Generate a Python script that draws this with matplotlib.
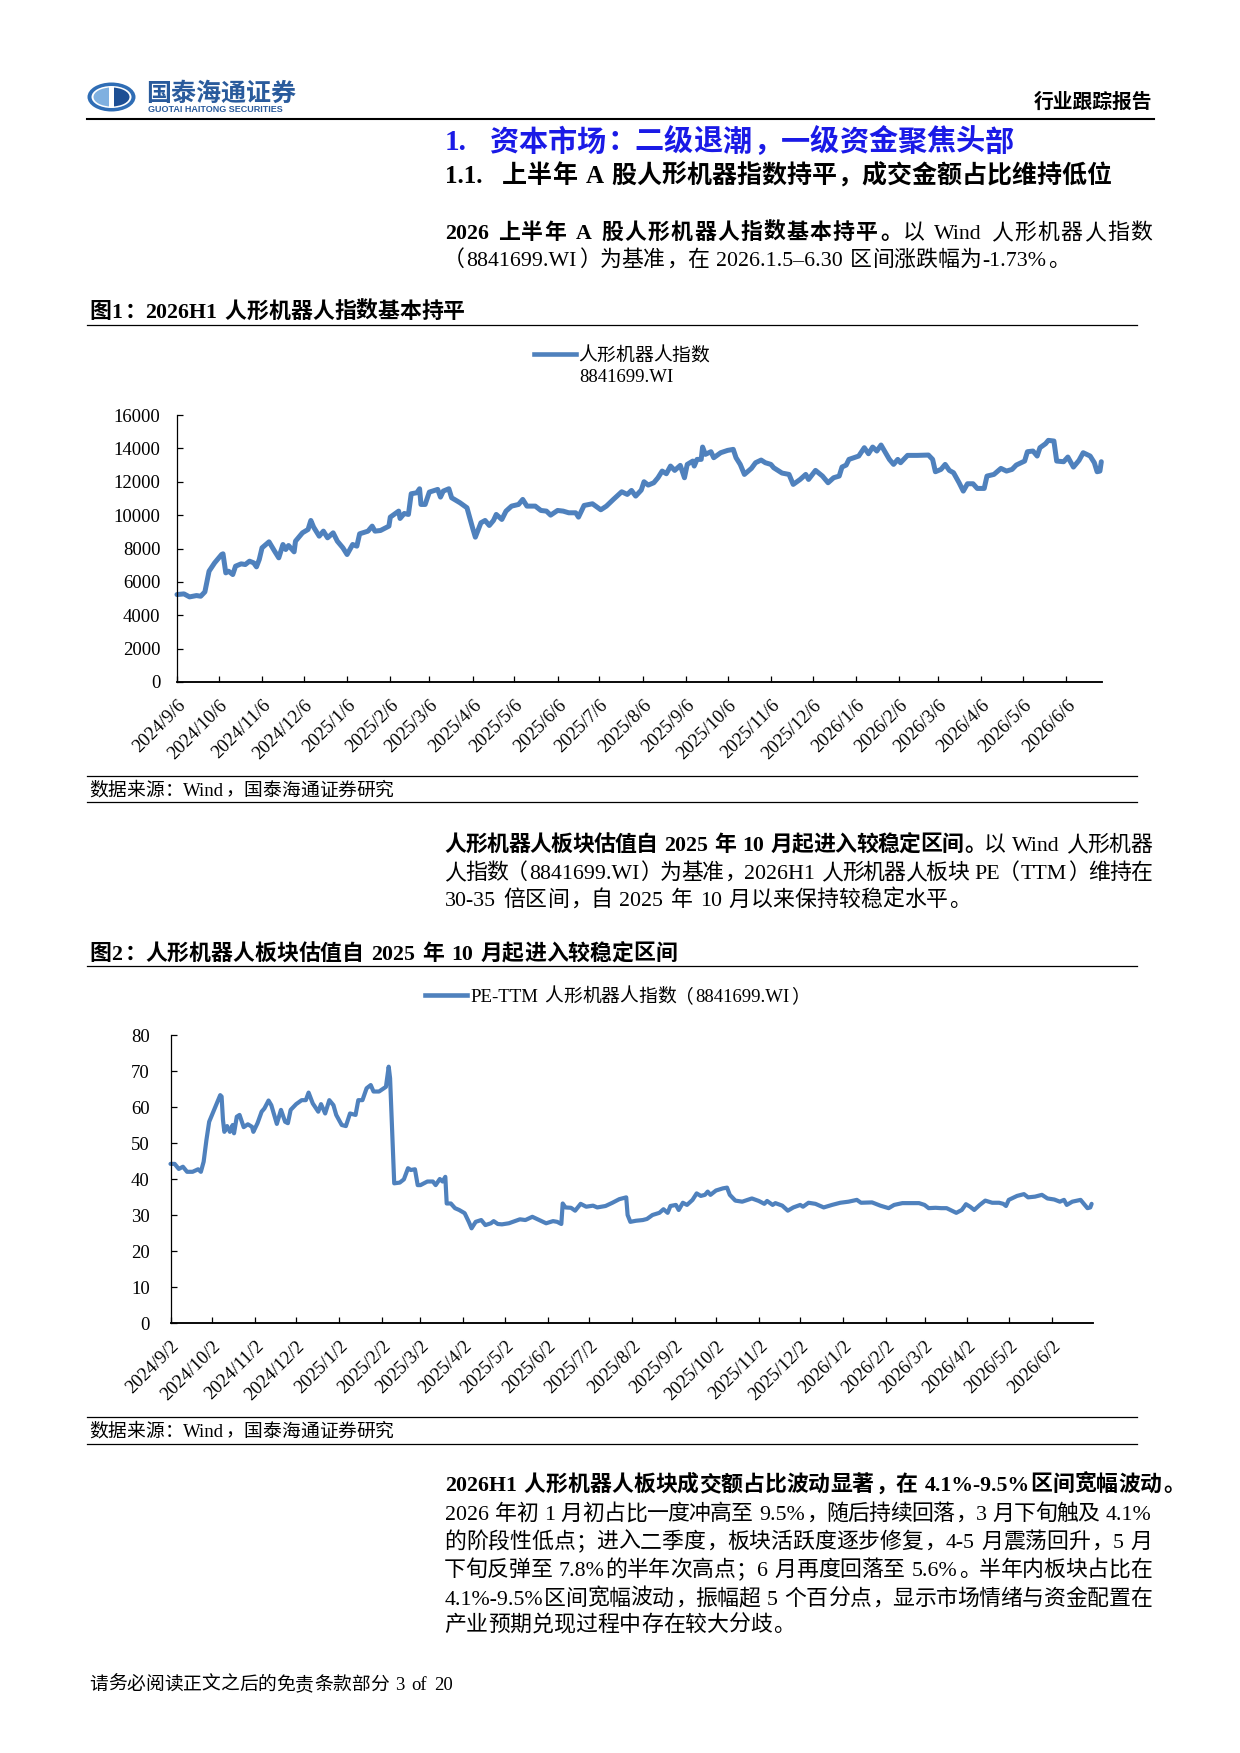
import re
import pandas as pd
import matplotlib
matplotlib.use('Agg')
import matplotlib.pyplot as plt
from matplotlib.lines import Line2D
from matplotlib.patches import Ellipse, Rectangle

plt.rcParams['font.family'] = ['Liberation Serif', 'Noto Sans CJK SC', 'DejaVu Sans']

W, H, DPI = 1240, 1753, 150
LINE_BLUE = '#4F81BD'

# fig 1: 人形机器人指数 (8841699.WI), x = days after 2024/9/6
idx_start = '2024-09-06'
idx_days = [0, 5, 9, 14, 17, 20, 23, 27, 32, 33, 35, 37, 40, 42, 46, 49, 52, 55, 57, 59,
            61, 66, 70, 73, 76, 78, 80, 84, 85, 90, 94, 96, 98, 102, 105, 108, 112, 115, 119, 122,
            126, 129, 131, 137, 140, 142, 146, 152, 153, 159, 160, 163, 166, 168, 172, 174, 175, 178, 181, 187,
            189, 191, 195, 197, 201, 203, 208, 212, 214, 218, 221, 224, 227, 229, 233, 236, 240, 245, 248, 251,
            257, 261, 265, 268, 273, 277, 281, 286, 288, 292, 298, 304, 308, 313, 319, 323, 326, 329,
            333, 335, 338, 342, 345, 348, 351, 354, 357, 361, 364, 366, 370, 371, 373, 376, 377, 379, 383, 385,
            390, 395, 399, 401, 404, 407, 412, 415, 419, 422, 426, 428, 434, 439, 442, 447, 451, 453, 458, 463,
            467, 471, 475, 477, 480, 482, 489, 493, 496, 499, 502, 505, 511, 514, 517, 519, 524, 531, 539, 542,
            544, 548, 551, 554, 557, 561, 564, 567, 571, 574, 579, 581, 586, 591, 595, 599, 602, 608, 610, 614,
            617, 619, 623, 625, 629, 631, 636, 639, 643, 647, 650, 655, 658, 660, 662, 663]
idx_vals = [5240, 5280, 5100, 5180, 5140, 5400, 6640, 7140, 7640, 7680, 6540, 6640, 6440, 6940, 7080, 7040, 7240, 7140, 6900, 7340,
            8040, 8400, 7840, 7440, 8240, 7940, 8180, 7800, 8440, 8940, 9140, 9680, 9280, 8740, 9040, 8640, 8940, 8440, 8040, 7640,
            8240, 8140, 8880, 9040, 9340, 9040, 9080, 9340, 9880, 10240, 9800, 10100, 10040, 11280, 11340, 11580, 10640, 10640, 11380, 11540,
            11080, 11440, 11580, 11040, 10840, 10740, 10440, 9240, 8680, 9540, 9680, 9380, 9680, 10040, 9740, 10240, 10540, 10640, 10940, 10540,
            10540, 10280, 10240, 10000, 10280, 10240, 10140, 10140, 9880, 10580, 10680, 10320, 10540, 10940, 11400, 11240, 11480, 11140,
            11500, 12000, 11800, 11940, 12240, 12640, 12480, 12940, 12680, 12980, 12240, 13040, 13240, 12940, 13340, 13340, 14080, 13640, 13800, 13440,
            13740, 13880, 13940, 13440, 13040, 12440, 12800, 13140, 13300, 13140, 13040, 12840, 12520, 12440, 11840, 12140, 12440, 12140, 12680, 12340,
            11940, 12240, 12340, 12880, 13000, 13340, 13540, 14040, 13680, 14080, 13840, 14200, 13340, 13040, 13340, 13140, 13580, 13580, 13600, 13340,
            12600, 12740, 13040, 12680, 12540, 11940, 11440, 11880, 11880, 11600, 11600, 12340, 12440, 12800, 12640, 12740, 13000, 13240, 13800, 13840,
            13540, 14040, 14280, 14480, 14440, 13240, 13200, 13480, 12880, 13280, 13740, 13540, 13140, 12600, 12640, 13200]
idx_ticks = ['2024/9/6', '2024/10/6', '2024/11/6', '2024/12/6', '2025/1/6', '2025/2/6', '2025/3/6',
             '2025/4/6', '2025/5/6', '2025/6/6', '2025/7/6', '2025/8/6', '2025/9/6', '2025/10/6',
             '2025/11/6', '2025/12/6', '2026/1/6', '2026/2/6', '2026/3/6', '2026/4/6', '2026/5/6', '2026/6/6']

# fig 2: PE-TTM, x = days after 2024/9/2
pe_start = '2024-09-02'
pe_days = [0, 3, 6, 9, 12, 16, 20, 22, 24, 26, 28, 32, 36, 37, 38, 39, 41, 43, 45, 46,
           48, 50, 53, 56, 59, 60, 63, 66, 68, 71, 73, 77, 80, 83, 85, 87, 91, 95, 98, 100,
           103, 107, 109, 112, 115, 118, 120, 124, 127, 130, 134, 136, 139, 142, 145, 147, 151, 156, 158, 159,
           162, 166, 169, 172, 174, 177, 179, 181, 186, 190, 192, 195, 197, 199, 200, 203, 206, 209, 213, 216,
           218, 221, 225, 228, 232, 234, 237, 240, 245, 253, 257, 262, 267, 272, 277, 280, 283, 284, 286, 290,
           293, 297, 301, 306, 309, 315, 320, 325, 330, 331, 333, 337, 342, 345, 349, 354, 357, 360, 362, 366,
           368, 371, 374, 378, 381, 384, 387, 389, 391, 395, 400, 403, 405, 409, 414, 418, 421, 426, 430, 432,
           436, 438, 443, 447, 451, 456, 458, 462, 467, 473, 479, 485, 491, 497, 500, 508, 514, 520, 524, 530,
           542, 546, 549, 554, 558, 562, 569, 573, 576, 579, 582, 586, 590, 595, 600, 603, 605, 607, 613, 618,
           621, 626, 631, 635, 640, 644, 647, 649, 653, 659, 664, 666, 667]
pe_vals = [44.2, 44.2, 42.8, 43.4, 42.0, 42.0, 42.7, 42.0, 44.8, 50.8, 55.9, 59.6, 63.3, 62.9, 56.4, 53.1, 54.7, 53.1, 55.0, 52.7,
           57.3, 57.8, 54.4, 55.2, 54.5, 53.1, 55.5, 58.7, 59.6, 61.8, 60.5, 55.3, 59.2, 55.9, 55.5, 59.2, 60.8, 61.9, 61.9, 64.0,
           61.0, 58.7, 60.8, 58.2, 61.9, 60.5, 57.8, 55.0, 54.7, 58.2, 57.8, 61.9, 61.9, 65.2, 66.1, 64.3, 64.3, 65.6, 71.2, 68.0,
           38.8, 39.0, 39.9, 43.0, 42.5, 42.7, 38.3, 38.3, 39.3, 39.3, 38.3, 40.0, 39.3, 40.6, 33.2, 33.2, 31.9, 31.4, 30.5, 28.1,
           26.3, 28.1, 28.6, 27.2, 27.7, 28.3, 27.5, 27.4, 27.7, 28.8, 28.6, 29.5, 28.6, 27.7, 28.3, 28.1, 27.5, 33.2, 32.1, 32.0,
           31.2, 33.1, 32.3, 32.6, 32.1, 32.5, 33.4, 34.4, 34.9, 30.0, 28.1, 28.4, 28.6, 28.9, 30.0, 30.6, 31.6, 30.6, 32.5, 32.8,
           31.4, 33.4, 32.8, 34.2, 36.0, 35.3, 35.6, 36.5, 35.6, 36.8, 37.4, 37.6, 35.6, 34.0, 33.7, 34.2, 34.6, 33.9, 33.1, 33.9,
           32.8, 33.3, 32.6, 31.2, 32.1, 32.8, 32.3, 33.4, 33.1, 32.1, 32.8, 33.4, 33.7, 34.2, 33.4, 33.5, 32.6, 31.9, 32.8, 33.3,
           33.3, 32.8, 31.9, 32.0, 31.9, 31.9, 30.6, 31.4, 33.0, 32.3, 31.4, 32.8, 34.0, 33.4, 33.4, 33.1, 32.5, 34.2, 35.3, 35.8,
           34.9, 35.1, 35.6, 34.6, 34.3, 33.7, 34.2, 32.8, 33.7, 34.2, 31.9, 32.1, 33.1]
pe_ticks = ['2024/9/2', '2024/10/2', '2024/11/2', '2024/12/2', '2025/1/2', '2025/2/2', '2025/3/2',
            '2025/4/2', '2025/5/2', '2025/6/2', '2025/7/2', '2025/8/2', '2025/9/2', '2025/10/2',
            '2025/11/2', '2025/12/2', '2026/1/2', '2026/2/2', '2026/3/2', '2026/4/2', '2026/5/2', '2026/6/2']

fig = plt.figure(figsize=(W / DPI, H / DPI), dpi=DPI)
renderer = fig.canvas.get_renderer()


def fx(x):
    return x / W


def fy(y):
    return 1 - y / H


def hline(y, x0=87, x1=1137, lw=0.6):
    fig.add_artist(Line2D([fx(x0), fx(x1)], [fy(y), fy(y)], color='black', lw=lw))


TOKEN = re.compile(r'[A-Za-z0-9.%\-–]+| |.')
CJK_LEFT = set('，。、；：）')
CJK_RIGHT = set('（')


def measure(t, size, bold):
    a = fig.text(0, 0, t, fontsize=size, fontweight='bold' if bold else 'normal')
    w = a.get_window_extent(renderer).width
    a.remove()
    return w


def para(segs, yc, x0=444, x1=None, size=10.5, color='black'):
    """draw one text line char by char, optionally justified to x1"""
    em = size * DPI / 72
    base = yc + 0.36 * em
    toks = []
    for s, bold in segs:
        toks += [(t, bold) for t in TOKEN.findall(s)]
    widths = []
    for t, bold in toks:
        if t == ' ':
            widths.append(0.3 * em)
        elif len(t) == 1 and ord(t) >= 0x2E80:
            widths.append(em)
        else:
            widths.append(measure(t, size, bold) + 0.06 * em)
    gap = 0
    if x1 is not None and len(toks) > 1:
        gap = (x1 - x0 - sum(widths)) / (len(toks) - 1)
    x = x0
    for (t, bold), w in zip(toks, widths):
        if t != ' ':
            if len(t) == 1 and ord(t) >= 0x2E80:
                if t in CJK_LEFT:
                    xa, ha = x + 0.06 * em, 'left'
                elif t in CJK_RIGHT:
                    xa, ha = x + 0.94 * em, 'right'
                else:
                    xa, ha = x + em / 2, 'center'
            else:
                xa, ha = x + 0.03 * em, 'left'
            fig.text(fx(xa), fy(base), t, fontsize=size, ha=ha, va='baseline', color=color,
                     fontweight='bold' if bold else 'normal')
        x += w + gap


def draw_chart(box, start, days, vals, ticks, ymax, ystep, lw, ypad, span):
    left, top, right, bottom = box
    ax = fig.add_axes([fx(left), fy(bottom), (right - left) / W, (bottom - top) / H])
    t0 = pd.Timestamp(start)
    x = t0 + pd.to_timedelta(days, unit='D')
    ax.plot(x, vals, color=LINE_BLUE, lw=lw, solid_joinstyle='round', solid_capstyle='round', clip_on=False)
    ax.set_xlim(t0, t0 + pd.Timedelta(days=span))
    ax.set_ylim(0, ymax)
    ax.set_yticks(range(0, ymax + 1, ystep))
    ax.set_xticks(pd.to_datetime(ticks, format='%Y/%m/%d'), ticks, rotation=45, ha='right',
                  rotation_mode='anchor')
    for s in ['top', 'right']:
        ax.spines[s].set_visible(False)
    ax.spines['left'].set_linewidth(0.6)
    ax.spines['bottom'].set_linewidth(0.9)
    ax.tick_params(direction='in', length=3, width=0.6, labelsize=9, colors='black')
    ax.tick_params(axis='y', pad=ypad)
    ax.tick_params(axis='x', pad=7)
    ax.patch.set_alpha(0)
    return ax


# ---- header ----
lax = fig.add_axes([fx(87), fy(112), 49 / W, 30 / H])
lax.set_xlim(0, 49)
lax.set_ylim(0, 30)
lax.axis('off')
lax.add_patch(Ellipse((24.5, 15), 48, 29, fc='#2f6db5', ec='none'))
lax.add_patch(Ellipse((24.5, 15), 40, 22, fc='white', ec='none'))
lh = Ellipse((24.5, 15), 36, 19, fc='#7fb0e0', ec='none')
lax.add_patch(lh)
lh.set_clip_path(Rectangle((0, 0), 22, 30, transform=lax.transData))
rh = Ellipse((24.5, 15), 36, 19, fc='#1d4f94', ec='none')
lax.add_patch(rh)
rh.set_clip_path(Rectangle((27, 0), 22, 30, transform=lax.transData))

fig.text(fx(146), fy(94), '国泰海通证券', fontsize=12, fontweight='bold', color='#2a5b9c', va='center',
         family=['Noto Sans CJK SC'])
fig.text(fx(148), fy(109.5), 'GUOTAI HAITONG SECURITIES', fontsize=4.3, fontweight='bold',
         color='#2a5b9c', va='center', family=['Liberation Sans'])
fig.text(fx(1152), fy(103), '行业跟踪报告', fontsize=9.5, fontweight='bold', ha='right', va='center')
hline(119, 87, 1154, lw=1.0)

# ---- headings + paragraph 1 ----
para([('1.', True)], 140, 444, size=14, color='#1a1ae6')
para([('资本市场：二级退潮，一级资金聚焦头部', True)], 140, 489, size=14, color='#1a1ae6')
para([('1.1.', True)], 174, 444, size=12)
para([('上半年 A 股人形机器指数持平，成交金额占比维持低位', True)], 174, 502, size=12)

para([('2026 上半年 A 股人形机器人指数基本持平。', True), ('以 Wind 人形机器人指数', False)], 231, x1=1152)
para([('（8841699.WI）为基准，在 2026.1.5–6.30 区间涨跌幅为-1.73%。', False)], 258)

# ---- figure 1 ----
para([('图1：2026H1 人形机器人指数基本持平', True)], 310, 89)
hline(325)
fig.add_artist(Line2D([fx(534), fx(576)], [fy(354), fy(354)], color=LINE_BLUE, lw=2.2))
para([('人形机器人指数', False)], 354, 578, size=9)
fig.text(fx(626), fy(378), '8841699.WI', fontsize=9, ha='center', va='center')
draw_chart((177, 415, 1102, 682), idx_start, idx_days, idx_vals, idx_ticks, 16000, 2000, 2.4, 8, 663.5)
hline(776)
para([('数据来源：Wind，国泰海通证券研究', False)], 789, 89, size=9)
hline(802)

# ---- paragraph 2 ----
para([('人形机器人板块估值自 2025 年 10 月起进入较稳定区间。', True), ('以 Wind 人形机器', False)], 843, x1=1152)
para([('人指数（8841699.WI）为基准，2026H1 人形机器人板块 PE（TTM）维持在', False)], 871, x1=1152)
para([('30-35 倍区间，自 2025 年 10 月以来保持较稳定水平。', False)], 898)

# ---- figure 2 ----
para([('图2：人形机器人板块估值自 2025 年 10 月起进入较稳定区间', True)], 952, 89)
hline(966)
fig.add_artist(Line2D([fx(425), fx(467)], [fy(995), fy(995)], color=LINE_BLUE, lw=2.2))
para([('PE-TTM 人形机器人指数（8841699.WI）', False)], 995, 470, size=9)
draw_chart((170.5, 1035, 1093, 1323), pe_start, pe_days, pe_vals, pe_ticks, 80, 10, 2.0, 10, 668)
hline(1417)
para([('数据来源：Wind，国泰海通证券研究', False)], 1430, 89, size=9)
hline(1444)

# ---- paragraph 3 ----
para([('2026H1 人形机器人板块成交额占比波动显著，在 4.1%-9.5%区间宽幅波动。', True)], 1483)
para([('2026 年初 1 月初占比一度冲高至 9.5%，随后持续回落，3 月下旬触及 4.1%', False)], 1512, x1=1152)
para([('的阶段性低点；进入二季度，板块活跃度逐步修复，4-5 月震荡回升，5 月', False)], 1540, x1=1152)
para([('下旬反弹至 7.8%的半年次高点；6 月再度回落至 5.6%。半年内板块占比在', False)], 1568, x1=1152)
para([('4.1%-9.5%区间宽幅波动，振幅超 5 个百分点，显示市场情绪与资金配置在', False)], 1597, x1=1152)
para([('产业预期兑现过程中存在较大分歧。', False)], 1623)

para([('请务必阅读正文之后的免责条款部分 3 of 20', False)], 1683, 89, size=9)

fig.savefig('out.png', dpi=DPI, facecolor='white')
